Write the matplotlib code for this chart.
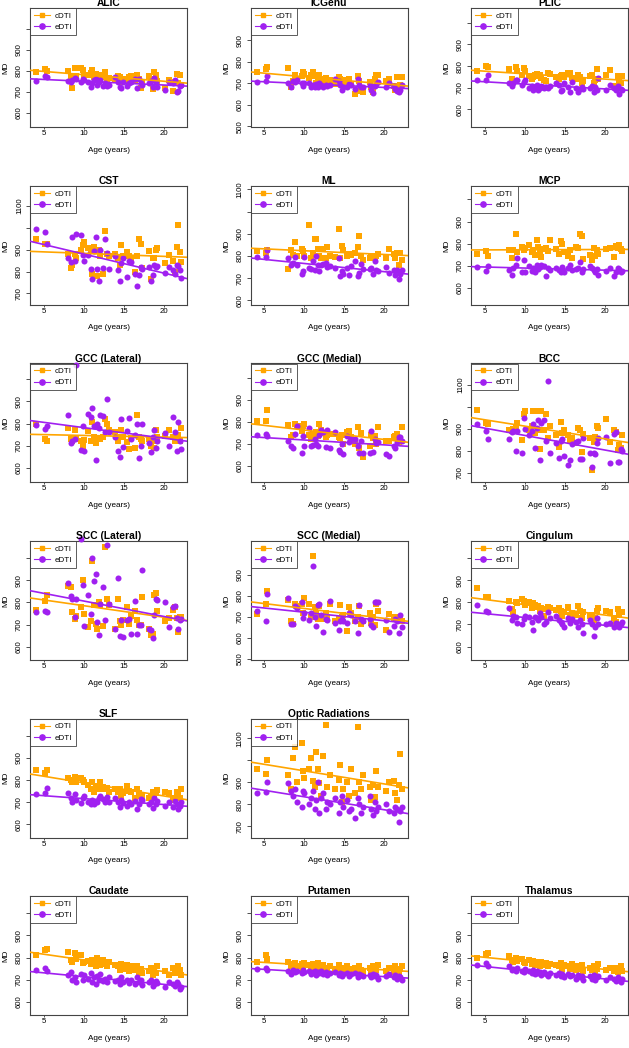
import numpy as np
import matplotlib
matplotlib.use('Agg')
import matplotlib.pyplot as plt
from matplotlib.lines import Line2D

plt.rcParams['font.family'] = ['Liberation Sans', 'DejaVu Sans']

ORANGE = '#FFA500'
PURPLE = '#A020F0'

# ages of the subjects (years)
ages = [4.1, 5.2, 5.4, 8.0, 8.4, 8.6, 8.9, 9.1, 9.7, 9.9,
        10.0, 10.6, 10.9, 11.1, 11.3, 11.5, 11.7, 11.9, 12.1, 12.4,
        12.7, 12.9, 13.2, 13.9, 14.3, 14.5, 14.7, 14.9, 15.4, 15.6,
        15.9, 16.4, 16.7, 16.9, 17.1, 17.3, 18.2, 18.4, 18.6, 18.8,
        19.0, 19.2, 20.2, 20.6, 21.2, 21.4, 21.6, 21.8, 22.0, 22.2]

# MD values per region (cDTI / eDTI)
alic_c = [795, 808, 802, 800, 770, 720, 812, 775, 815, 805, 780, 780, 790, 805, 770, 785, 775, 760, 780, 770,
          795, 760, 765, 760, 775, 770, 745, 760, 755, 770, 775, 750, 780, 760, 720, 745, 775, 760, 715, 795,
          780, 750, 720, 755, 705, 745, 785, 740, 780, 735]
alic_e = [750, 775, 770, 750, 745, 755, 765, 760, 745, 760, 755, 745, 725, 740, 755, 760, 735, 745, 755, 730,
          740, 730, 735, 770, 745, 725, 720, 745, 730, 740, 745, 760, 720, 760, 740, 735, 740, 750, 725, 765,
          745, 725, 710, 745, 740, 755, 700, 705, 730, 735]
icgenu_c = [750, 765, 775, 770, 680, 710, 740, 720, 735, 750, 745, 725, 740, 750, 735, 700, 730, 740, 700, 720,
            725, 710, 715, 695, 730, 720, 700, 715, 700, 720, 690, 650, 735, 710, 665, 660, 705, 680, 660, 720,
            740, 740, 710, 720, 685, 670, 730, 670, 690, 730]
icgenu_e = [705, 710, 735, 700, 680, 710, 705, 715, 700, 685, 700, 700, 680, 690, 680, 695, 680, 700, 690, 680,
            690, 685, 690, 720, 710, 690, 670, 680, 680, 695, 690, 675, 720, 690, 680, 680, 690, 670, 655, 685,
            695, 705, 680, 700, 685, 675, 665, 660, 670, 690]
plic_c = [775, 800, 795, 785, 740, 730, 795, 775, 760, 790, 775, 755, 740, 750, 760, 765, 755, 760, 745, 735,
          730, 770, 765, 750, 740, 755, 760, 750, 770, 770, 745, 740, 760, 750, 720, 730, 755, 760, 720, 735,
          785, 740, 760, 780, 710, 700, 755, 730, 720, 755]
plic_e = [735, 735, 760, 720, 710, 720, 735, 735, 715, 725, 735, 700, 710, 690, 700, 715, 690, 700, 710, 700,
          705, 700, 710, 720, 715, 685, 690, 720, 705, 680, 725, 700, 680, 695, 705, 695, 700, 710, 680, 705,
          690, 745, 690, 715, 700, 690, 710, 670, 695, 690]
cst_c = [950, 925, 925, 880, 815, 830, 880, 860, 900, 920, 935, 905, 900, 790, 910, 895, 780, 900, 870, 790,
         985, 880, 870, 880, 860, 830, 920, 870, 890, 870, 860, 800, 870, 950, 925, 815, 895, 765, 860, 860,
         900, 905, 840, 875, 850, 800, 910, 1010, 890, 845]
cst_e = [995, 980, 925, 860, 845, 955, 850, 970, 965, 875, 850, 875, 810, 765, 895, 955, 810, 755, 900, 815,
         950, 885, 810, 870, 805, 755, 840, 860, 775, 850, 845, 790, 735, 785, 820, 810, 820, 755, 785, 830,
         820, 825, 795, 820, 805, 790, 830, 825, 805, 770]
ml_c = [820, 815, 825, 740, 825, 805, 865, 800, 830, 820, 800, 940, 790, 815, 875, 875, 830, 800, 790, 830,
        790, 840, 800, 795, 920, 790, 845, 825, 800, 810, 805, 815, 840, 890, 800, 780, 790, 800, 790, 790,
        800, 810, 790, 830, 810, 790, 815, 760, 815, 780]
ml_e = [793, 793, 825, 790, 760, 770, 795, 760, 720, 730, 795, 745, 740, 775, 735, 800, 760, 730, 760, 765,
        770, 750, 755, 745, 790, 710, 730, 720, 745, 715, 755, 775, 710, 725, 765, 740, 740, 745, 720, 775,
        735, 730, 750, 725, 735, 715, 735, 695, 720, 735]
mcp_c = [755, 765, 745, 770, 735, 770, 845, 760, 785, 770, 780, 795, 760, 770, 750, 815, 785, 760, 740, 775,
         780, 765, 815, 775, 755, 810, 800, 760, 745, 770, 735, 785, 780, 845, 835, 730, 750, 725, 780, 745,
         770, 755, 775, 780, 740, 790, 780, 795, 775, 765]
mcp_e = [695, 675, 700, 680, 660, 690, 705, 735, 670, 725, 670, 700, 675, 690, 670, 705, 685, 695, 705, 700,
         655, 690, 680, 690, 680, 670, 695, 670, 690, 705, 680, 685, 690, 715, 670, 685, 700, 690, 680, 670,
         685, 660, 675, 690, 655, 670, 690, 685, 670, 675]
gccl_c = [800, 730, 720, 780, 730, 720, 770, 730, 720, 700, 725, 765, 720, 805, 740, 710, 790, 735, 730, 740,
          820, 800, 770, 760, 720, 740, 770, 740, 715, 685, 735, 690, 840, 740, 730, 720, 730, 700, 720, 690,
          770, 740, 745, 770, 740, 720, 735, 750, 720, 780]
gccl_e = [795, 775, 790, 840, 710, 720, 730, 1065, 680, 790, 675, 845, 830, 870, 790, 635, 800, 780, 840, 835,
          760, 910, 760, 740, 675, 650, 820, 695, 765, 825, 730, 750, 800, 645, 700, 800, 710, 670, 740, 770,
          690, 720, 755, 700, 830, 760, 675, 805, 720, 685]
gccm_c = [805, 805, 855, 785, 730, 740, 790, 780, 760, 780, 790, 740, 720, 745, 730, 755, 735, 790, 765, 750,
          730, 740, 745, 745, 730, 725, 740, 700, 755, 760, 730, 700, 775, 680, 750, 640, 690, 740, 725, 735,
          700, 775, 715, 715, 730, 735, 745, 710, 720, 775]
gccm_e = [740, 745, 735, 715, 690, 680, 745, 780, 660, 735, 690, 770, 690, 695, 720, 700, 690, 740, 765, 755,
          685, 765, 680, 755, 670, 665, 700, 655, 735, 710, 720, 720, 690, 660, 715, 660, 660, 760, 665, 720,
          705, 710, 655, 645, 690, 680, 710, 730, 730, 715]
bcc_c = [985, 925, 920, 895, 890, 900, 910, 925, 850, 965, 980, 895, 915, 980, 880, 980, 895, 810, 980, 895,
         965, 860, 915, 870, 820, 930, 880, 895, 870, 850, 860, 835, 905, 895, 795, 875, 860, 715, 840, 865,
         915, 905, 945, 840, 895, 885, 805, 825, 815, 870]
bcc_e = [920, 890, 855, 855, 885, 890, 800, 890, 790, 950, 900, 870, 890, 920, 815, 905, 940, 760, 925, 940,
         845, 1115, 790, 835, 770, 845, 855, 775, 735, 760, 830, 840, 845, 765, 765, 860, 790, 725, 790, 785,
         835, 860, 865, 745, 875, 885, 750, 750, 810, 800]
sccl_c = [765, 805, 835, 875, 870, 755, 725, 740, 780, 900, 750, 690, 715, 985, 790, 705, 680, 800, 790, 695,
          1050, 815, 790, 680, 815, 715, 700, 720, 780, 705, 740, 760, 720, 700, 700, 825, 680, 655, 660, 835,
          845, 760, 715, 730, 765, 780, 730, 665, 735, 735]
sccl_e = [755, 760, 755, 890, 830, 815, 735, 815, 1088, 880, 695, 835, 750, 1000, 895, 930, 710, 655, 795, 870,
          720, 1060, 795, 680, 910, 650, 720, 645, 720, 725, 660, 805, 660, 700, 700, 945, 680, 675, 640, 745,
          815, 810, 800, 690, 780, 785, 730, 680, 720, 725]
sccm_c = [715, 760, 825, 780, 680, 665, 760, 750, 760, 720, 790, 760, 700, 990, 745, 720, 690, 750, 700, 690,
          720, 700, 760, 680, 690, 755, 700, 710, 635, 745, 720, 680, 700, 750, 665, 680, 720, 670, 700, 660,
          760, 730, 640, 715, 690, 700, 695, 690, 700, 680]
sccm_e = [730, 680, 810, 790, 665, 665, 750, 740, 770, 695, 720, 685, 720, 940, 700, 655, 755, 760, 710, 630,
          690, 685, 775, 670, 640, 680, 690, 680, 670, 720, 710, 680, 625, 755, 690, 680, 690, 660, 650, 770,
          770, 770, 685, 630, 655, 690, 680, 625, 710, 650]
cing_c = [865, 825, 825, 805, 770, 755, 800, 795, 815, 805, 790, 800, 775, 795, 790, 780, 785, 760, 775, 740,
          770, 780, 775, 765, 775, 760, 740, 755, 780, 745, 750, 745, 785, 760, 730, 755, 740, 745, 720, 730,
          760, 775, 760, 755, 730, 710, 770, 745, 755, 755]
cing_e = [790, 760, 755, 775, 720, 740, 735, 705, 700, 725, 740, 735, 710, 675, 735, 730, 720, 750, 735, 700,
          710, 755, 730, 740, 720, 710, 700, 690, 730, 705, 725, 710, 690, 720, 700, 660, 720, 700, 650, 690,
          730, 700, 700, 705, 690, 705, 700, 690, 700, 710]
slf_c = [845, 830, 845, 810, 800, 790, 815, 790, 810, 800, 790, 780, 760, 790, 745, 770, 775, 760, 790, 770,
         760, 765, 745, 760, 745, 760, 730, 740, 775, 750, 745, 720, 760, 740, 730, 730, 720, 730, 745, 720,
         740, 755, 745, 740, 720, 710, 745, 735, 720, 760]
slf_e = [735, 740, 765, 740, 720, 700, 735, 710, 695, 720, 730, 700, 690, 710, 690, 705, 700, 720, 730, 715,
         700, 725, 700, 720, 700, 680, 710, 695, 685, 700, 690, 705, 670, 690, 715, 710, 690, 700, 675, 720,
         690, 705, 685, 700, 680, 705, 690, 670, 685, 700]
optic_c = [960, 940, 1000, 935, 870, 1010, 1060, 900, 1080, 950, 920, 960, 1010, 905, 880, 1040, 960, 895, 840, 1020,
           1160, 880, 935, 870, 910, 980, 810, 870, 900, 840, 960, 850, 1150, 900, 870, 935, 880, 820, 890, 835,
           950, 880, 860, 900, 905, 850, 820, 890, 1030, 870]
optic_e = [850, 855, 900, 895, 860, 840, 870, 810, 790, 860, 850, 800, 830, 860, 780, 820, 900, 760, 830, 850,
           780, 810, 800, 830, 760, 810, 840, 790, 820, 770, 780, 740, 830, 800, 760, 790, 840, 780, 750, 810,
           770, 790, 800, 770, 760, 790, 780, 720, 770, 790]
caud_c = [810, 835, 840, 825, 790, 780, 820, 795, 810, 775, 780, 785, 770, 790, 775, 760, 800, 780, 765, 790,
          770, 760, 780, 765, 760, 745, 770, 750, 765, 740, 760, 745, 760, 735, 750, 730, 740, 755, 720, 745,
          730, 760, 740, 720, 755, 730, 745, 760, 745, 720]
caud_e = [745, 755, 740, 720, 735, 700, 710, 690, 725, 700, 720, 705, 730, 690, 710, 680, 715, 700, 725, 695,
          705, 690, 710, 695, 700, 680, 710, 690, 700, 685, 700, 680, 710, 690, 700, 675, 690, 700, 670, 680,
          695, 685, 665, 690, 680, 670, 690, 680, 660, 665]
put_c = [780, 810, 795, 780, 760, 770, 775, 760, 770, 755, 775, 765, 750, 770, 760, 755, 775, 760, 750, 765,
         755, 745, 760, 750, 765, 740, 755, 745, 760, 740, 750, 755, 740, 760, 745, 735, 755, 740, 760, 735,
         745, 765, 740, 755, 735, 760, 745, 730, 750, 760]
put_e = [750, 755, 745, 740, 725, 745, 735, 740, 730, 745, 735, 740, 725, 735, 740, 720, 735, 730, 740, 725,
         735, 720, 730, 735, 720, 730, 715, 725, 730, 715, 725, 730, 710, 725, 720, 715, 720, 710, 725, 715,
         720, 705, 715, 725, 710, 720, 705, 715, 710, 700]
thal_c = [800, 815, 820, 805, 790, 780, 800, 785, 795, 780, 775, 790, 770, 785, 765, 780, 770, 760, 780, 765,
          775, 760, 770, 765, 760, 775, 750, 765, 760, 750, 770, 745, 760, 750, 765, 740, 755, 745, 760, 735,
          750, 770, 745, 755, 740, 755, 735, 750, 760, 740]
thal_e = [765, 775, 760, 760, 745, 750, 740, 755, 740, 735, 750, 740, 730, 745, 725, 740, 730, 735, 720, 735,
          725, 715, 730, 720, 730, 715, 725, 710, 725, 715, 720, 705, 720, 710, 715, 700, 715, 705, 720, 700,
          710, 715, 700, 710, 705, 695, 710, 700, 690, 705]

# panel: title, cDTI, eDTI, ylim, ticks, labelled ticks
panels = [
    ('ALIC', alic_c, alic_e, (530, 1100), [600, 700, 800, 900, 1000], [600, 700, 800, 900]),
    ('ICGenu', icgenu_c, icgenu_e, (495, 1048), [500, 600, 700, 800, 900], [500, 600, 700, 800, 900]),
    ('PLIC', plic_c, plic_e, (518, 1066), [600, 700, 800, 900, 1000], [600, 700, 800, 900]),
    ('CST', cst_c, cst_e, (648, 1190), [700, 800, 900, 1000, 1100], [700, 800, 900, 1100]),
    ('ML', ml_c, ml_e, (579, 1116), [600, 700, 800, 900, 1000, 1100], [600, 700, 800, 900, 1100]),
    ('MCP', mcp_c, mcp_e, (523, 1061), [600, 700, 800, 900, 1000], [600, 700, 800, 900]),
    ('GCC (Lateral)', gccl_c, gccl_e, (533, 1072), [600, 700, 800, 900, 1000], [600, 700, 800, 900]),
    ('GCC (Medial)', gccm_c, gccm_e, (525, 1064), [600, 700, 800, 900, 1000], [600, 700, 800, 900]),
    ('BCC', bcc_c, bcc_e, (657, 1196), [700, 800, 900, 1000, 1100], [700, 800, 900, 1100]),
    ('SCC (Lateral)', sccl_c, sccl_e, (540, 1077), [600, 700, 800, 900, 1000], [600, 700, 800, 900]),
    ('SCC (Medial)', sccm_c, sccm_e, (495, 1060), [500, 600, 700, 800, 900], [500, 600, 700, 800, 900]),
    ('Cingulum', cing_c, cing_e, (539, 1077), [600, 700, 800, 900, 1000], [600, 700, 800, 900]),
    ('SLF', slf_c, slf_e, (540, 1077), [600, 700, 800, 900, 1000], [600, 700, 800, 900]),
    ('Optic Radiations', optic_c, optic_e, (648, 1190), [700, 800, 900, 1000, 1100], [700, 800, 900, 1100]),
    None,
    ('Caudate', caud_c, caud_e, (539, 1077), [600, 700, 800, 900, 1000], [600, 700, 800, 900]),
    ('Putamen', put_c, put_e, (539, 1077), [600, 700, 800, 900, 1000], [600, 700, 800, 900]),
    ('Thalamus', thal_c, thal_e, (539, 1077), [600, 700, 800, 900, 1000], [600, 700, 800, 900]),
]

W, H = 629, 1048
fig = plt.figure(figsize=(W / 100, H / 100), dpi=100)

col_left = [30, 250.5, 471]
box_w, box_h = 157, 119
row_pitch = 177.6
x = np.array(ages)

for k, p in enumerate(panels):
    if p is None:
        continue
    r, c = divmod(k, 3)
    top = 8.3 + r * row_pitch
    ax = fig.add_axes([col_left[c] / W, 1 - (top + box_h) / H, box_w / W, box_h / H])
    title, yc, ye, ylim, ticks, labelled = p

    ax.scatter(x, yc, marker='s', s=15, color=ORANGE, lw=0, zorder=3, clip_on=False)
    ax.scatter(x, ye, marker='o', s=19, color=PURPLE, lw=0, zorder=3, clip_on=False)
    # least squares fits
    mc, bc = np.polyfit(x, yc, 1)
    me, be = np.polyfit(x, ye, 1)
    ax.axline((0, bc), slope=mc, color=ORANGE, lw=1.2, zorder=4)
    ax.axline((0, be), slope=me, color=PURPLE, lw=1.2, zorder=4)

    ax.set_xlim(3.3, 22.9)
    ax.set_ylim(*ylim)
    ax.set_xticks([5, 10, 15, 20])
    ax.set_yticks(ticks)
    ax.set_yticklabels([str(t) if t in labelled else '' for t in ticks])
    ax.tick_params(labelsize=5.6, width=0.6, color='#333333')
    ax.tick_params(axis='x', length=1.5, pad=0.6)
    ax.tick_params(axis='y', length=2.8, pad=2.2, labelrotation=90)
    for lab in ax.get_yticklabels():
        lab.set_va('center')
    for s in ax.spines.values():
        s.set_color('#444444')
        s.set_linewidth(0.8)

    ax.set_title(title, fontsize=7.4, fontweight='bold', pad=0.6)
    ax.set_xlabel('Age (years)', fontsize=5.9, va='center')
    ax.xaxis.set_label_coords(0.5, -23 / box_h)
    ax.set_ylabel('MD', fontsize=5.9, va='center')
    ax.yaxis.set_label_coords(-24 / box_w, 0.5)

    handles = [Line2D([], [], color=ORANGE, marker='s', markersize=3.4, lw=0.8),
               Line2D([], [], color=PURPLE, marker='o', markersize=3.8, lw=0.8)]
    leg = ax.legend(handles, ['cDTI', 'eDTI'], loc='upper left', fontsize=5.8, frameon=True,
                    fancybox=False, borderaxespad=0, handlelength=2.0, handletextpad=0.6,
                    borderpad=0.5, labelspacing=0.45)
    leg.get_frame().set_edgecolor('#333333')
    leg.get_frame().set_linewidth(0.7)
    leg.set_zorder(5)

fig.savefig('out.png', dpi=100)
